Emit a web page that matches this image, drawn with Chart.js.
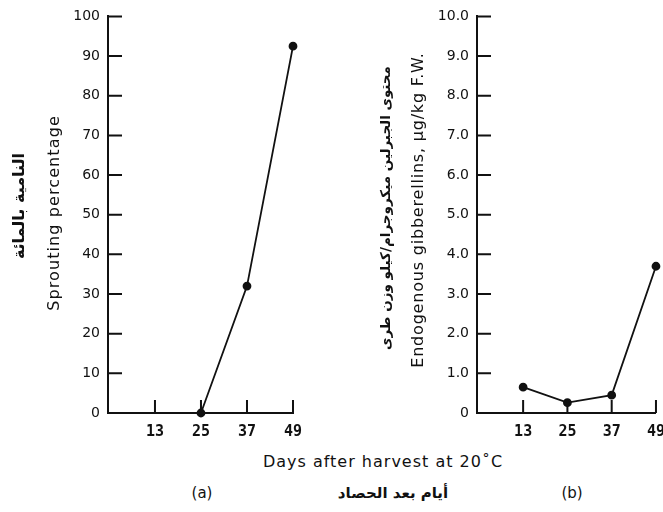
<!DOCTYPE html>
<html>
<head>
<meta charset="utf-8">
<script src="https://cdn.jsdelivr.net/npm/chart.js@4.4.0/dist/chart.umd.min.js"></script>
<style>
  html, body { margin: 0; padding: 0; background: #fff; }
  body { width: 663px; height: 512px; position: relative; overflow: hidden; font-family: "DejaVu Sans", sans-serif; color: #111; }
  .box { position: absolute; top: 0; height: 445px; }
  .lbl { position: absolute; white-space: nowrap; transform: translate(-50%, -50%); }
  .rot { transform: translate(-50%, -50%) rotate(-90deg); }
  .ar { font-weight: bold; }
</style>
</head>
<body>
<div class="box" style="left:0;width:315px"><canvas id="chartA"></canvas></div>
<div class="box" style="left:330px;width:345px"><canvas id="chartB"></canvas></div>

<div class="lbl rot ar" style="left:18px;top:206px;font-size:16px">النامية بالمائة</div>
<div class="lbl rot" style="left:53px;top:213px;font-size:16px;letter-spacing:1.1px">Sprouting percentage</div>
<div class="lbl rot ar" style="left:385px;top:208px;font-size:13.5px">محتوى الجبرلين ميكروجرام/كيلو وزن طرى</div>
<div class="lbl rot" style="left:417px;top:210px;font-size:16px;letter-spacing:0.8px">Endogenous gibberellins, μg/kg F.W.</div>
<div class="lbl" style="left:383px;top:461px;font-size:16px;letter-spacing:1px">Days after harvest at 20˚C</div>
<div class="lbl" style="left:202px;top:493px;font-size:15px">(a)</div>
<div class="lbl ar" style="left:393px;top:493px;font-size:15px">أيام بعد الحصاد</div>
<div class="lbl" style="left:572px;top:493px;font-size:15px">(b)</div>

<script>
const xTicks = [13, 25, 37, 49];

const sproutDays = [25, 37, 49];
const sprouting = [0, 32, 92.5];

const gibDays = [13, 25, 37, 49];
const gibberellins = [0.65, 0.26, 0.45, 3.7];

// tick marks drawn inward, from the scales
const inwardTicks = {
	id: "inwardTicks",
	afterDraw(chart) {
		const ctx = chart.ctx;
		const xs = chart.scales.x;
		const ys = chart.scales.y;
		ctx.save();
		ctx.strokeStyle = "#111";
		ctx.lineWidth = 2;
		ctx.beginPath();
		ys.ticks.forEach(t => {
			if (t.value === 0) return;
			const y = ys.getPixelForValue(t.value);
			ctx.moveTo(ys.right, y);
			ctx.lineTo(ys.right + 14, y);
		});
		xs.ticks.forEach(t => {
			const x = xs.getPixelForValue(t.value);
			ctx.moveTo(x, xs.top);
			ctx.lineTo(x, xs.top - 13);
		});
		ctx.stroke();
		ctx.restore();
	}
};

function makeChart(id, xs, ys, opts) {
	return new Chart(id, {
		type: "line",
		data: {
			datasets: [{
				data: xs.map((d, i) => ({ x: d, y: ys[i] })),
				borderColor: "#111",
				backgroundColor: "#111",
				borderWidth: 1.8,
				pointRadius: 3.5,
				pointHoverRadius: 3.5,
				clip: false
			}]
		},
		options: {
			responsive: true,
			maintainAspectRatio: false,
			animation: false,
			layout: { padding: opts.padding },
			plugins: { legend: { display: false }, tooltip: { enabled: false } },
			scales: {
				x: {
					type: "linear",
					min: opts.xMin,
					max: 49,
					afterBuildTicks: s => { s.ticks = xTicks.map(v => ({ value: v })); },
					afterFit: s => { s.height = 32; },
					grid: { display: false, drawTicks: false },
					border: { display: true, color: "#111", width: 2 },
					ticks: {
						padding: 10,
						color: "#111",
						font: { family: "DejaVu Sans Mono", size: 15, weight: "bold" }
					}
				},
				y: {
					min: 0,
					max: opts.yMax,
					afterFit: s => { s.width = opts.yWidth; },
					grid: { display: false, drawTicks: false },
					border: { display: true, color: "#111", width: 2 },
					ticks: {
						stepSize: opts.yMax / 10,
						padding: 8,
						color: "#111",
						font: { family: "DejaVu Sans", size: 14 },
						callback: opts.fmt
					}
				}
			}
		},
		plugins: [inwardTicks]
	});
}

makeChart("chartA", sproutDays, sprouting, {
	xMin: 0.75, yMax: 100, yWidth: 108,
	padding: { top: 14, right: 22, left: 0, bottom: 0 },
	fmt: v => String(v)
});

makeChart("chartB", gibDays, gibberellins, {
	xMin: 0.5, yMax: 10, yWidth: 147,
	padding: { top: 14, right: 15, left: 0, bottom: 0 },
	fmt: v => v === 0 ? "0" : v.toFixed(1)
});
</script>
</body>
</html>
